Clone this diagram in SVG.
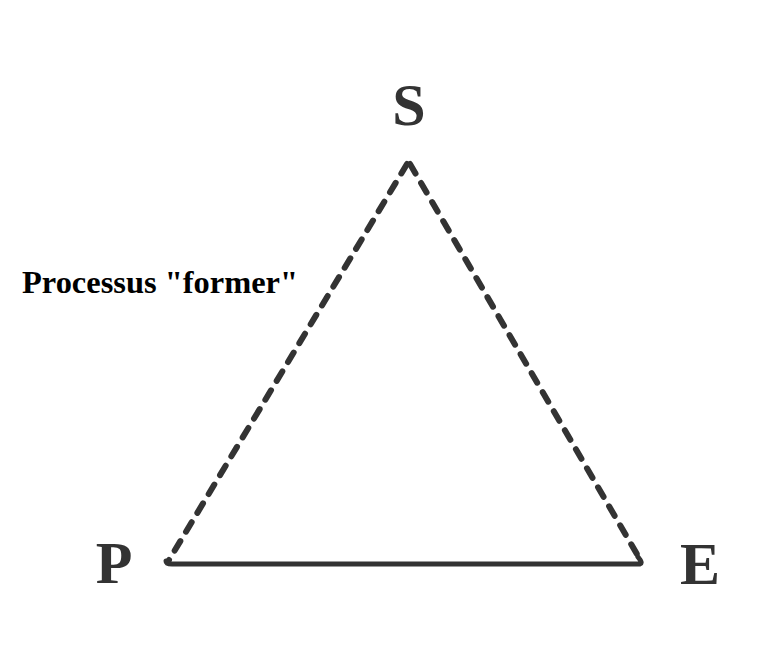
<svg xmlns="http://www.w3.org/2000/svg" width="782" height="657" viewBox="0 0 782 657">
<style>
.lbl{font-family:"Liberation Serif","Times New Roman",serif;font-weight:bold;fill:#333;text-anchor:middle}
.cap{font-family:"Liberation Serif","Times New Roman",serif;font-weight:bold;fill:#000}
.dash{stroke:#333;stroke-width:6;stroke-linecap:round;stroke-dasharray:11 11;fill:none}
.solid{stroke:#333;stroke-width:5;stroke-linecap:round;fill:none}
</style>
<rect width="782" height="657" fill="#fff"/>
<g id="connectors">
<path class="dash" d="M407,164 L169,560"/>
<path class="dash" d="M410,164 L638,556"/>
<path class="solid" d="M166,561 Q166,564 172,564 L640,564 Q643,563 638,557"/>
</g>
<g id="node-S"><text class="lbl" x="409" y="125" font-size="60">S</text></g>
<g id="node-P"><text class="lbl" x="114" y="583" font-size="60">P</text></g>
<g id="node-E"><text class="lbl" x="700" y="584" font-size="60">E</text></g>
<g id="label"><text class="cap" x="22" y="293" font-size="32" textLength="276" lengthAdjust="spacingAndGlyphs">Processus "former"</text></g>
</svg>
